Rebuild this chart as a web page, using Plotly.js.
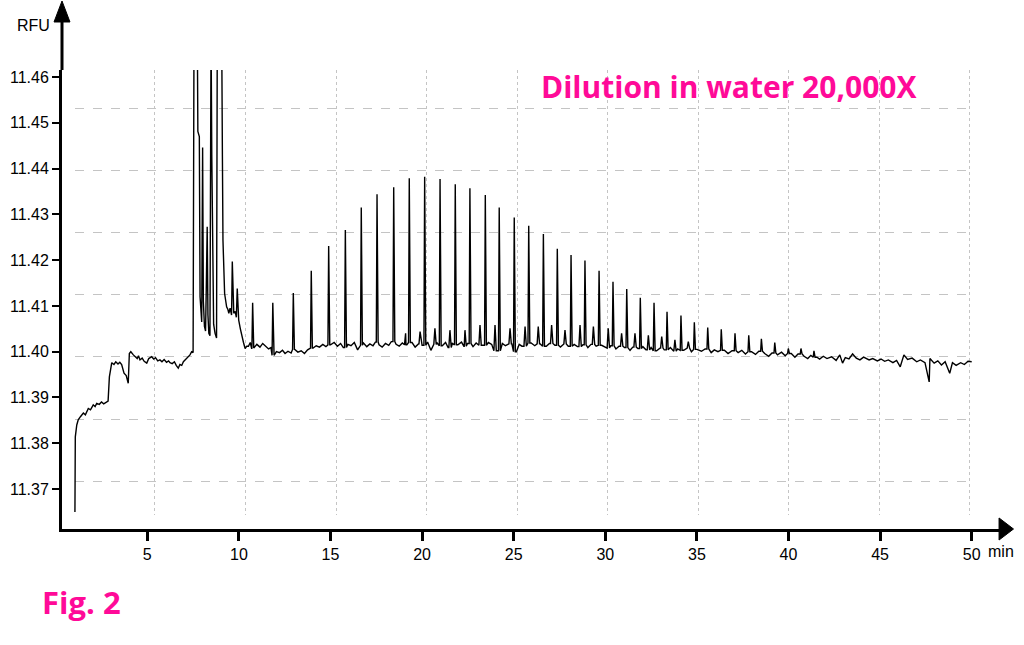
<!DOCTYPE html>
<html>
<head>
<meta charset="utf-8">
<script src="https://cdn.plot.ly/plotly-3.0.1.min.js"></script>
<style>
  html, body { margin: 0; padding: 0; background: #fff; }
  #chart { width: 1024px; height: 645px; }
</style>
</head>
<body>
<div id="chart"></div>
<script>
// baseline of the trace (min, RFU)
const baseTime = [1.05, 1.07, 1.15, 1.23, 1.35, 1.51, 1.62, 1.78, 1.90, 2.05, 2.15, 2.24, 2.38, 2.50, 2.62, 2.78, 2.86, 2.93, 3.00, 3.06,
  3.18, 3.28, 3.40, 3.50, 3.60, 3.68, 3.73, 3.85, 3.96, 4.02, 4.10, 4.24, 4.35, 4.45, 4.52, 4.60, 4.72, 4.83, 4.97, 5.08,
  5.24, 5.35, 5.45, 5.57, 5.69, 5.80, 5.92, 6.05, 6.16, 6.24, 6.36, 6.48, 6.58, 6.69, 6.78, 6.88, 6.97, 7.08, 7.18, 7.27,
  7.33, 7.42, 7.50,
  10.80, 10.98, 11.15, 11.30, 11.45, 11.62, 11.75, 11.92, 12.05, 12.22, 12.38, 12.52, 12.68, 12.85, 13.05, 13.22, 13.40, 13.58, 13.75, 14.05,
  14.22, 14.40, 14.58, 14.75, 15.00, 15.20, 15.38, 15.55, 15.70, 15.95, 16.12, 16.30, 16.48, 16.60, 16.80, 16.98, 17.15, 17.32, 17.45, 17.65,
  17.82, 18.00, 18.18, 18.32, 18.58, 18.75, 18.92, 19.12, 19.45, 19.62, 19.80, 20.00, 20.30, 20.48, 20.60, 20.82, 21.10, 21.28, 21.42, 21.65,
  21.95, 22.15, 22.30, 22.48, 22.78, 22.95, 23.30, 23.62, 23.80, 24.10, 24.38, 24.55, 24.90, 25.15, 25.30, 25.45, 25.95, 26.15, 26.45, 26.78,
  26.95, 27.25, 27.55, 27.70, 27.98, 28.30, 28.48, 28.78, 29.05, 29.22, 29.50, 29.80, 30.05, 30.30, 30.58, 30.75, 31.05, 31.35, 31.50, 31.78,
  32.05, 32.22, 32.50, 32.80, 33.00, 33.22, 33.55, 33.70, 33.95, 34.28, 34.45, 34.70, 35.00, 35.25, 35.45, 35.78, 35.95, 36.15, 36.50, 36.70,
  36.92, 37.25, 37.45, 37.65, 37.98, 38.20, 38.38, 38.70, 38.92, 39.10, 39.40, 39.62, 39.82, 40.15, 40.35, 40.52, 40.85, 41.05, 41.22, 41.55,
  41.70, 41.90, 42.10, 42.35, 42.60, 42.80, 42.95, 43.10, 43.30, 43.50, 43.70, 43.90, 44.10, 44.40, 44.60, 44.85, 45.05, 45.25, 45.45, 45.70,
  45.90, 46.10, 46.30, 46.50, 46.75, 47.00, 47.20, 47.45, 47.68, 47.72, 47.95, 48.15, 48.35, 48.55, 48.80, 48.95, 49.15, 49.40, 49.60, 49.80,
  50.00];
const baseRFU = [11.3650, 11.3814, 11.3840, 11.3851, 11.3858, 11.3866, 11.3862, 11.3876, 11.3873, 11.3884, 11.3880, 11.3887, 11.3885, 11.3890, 11.3886, 11.3889, 11.3892, 11.3945, 11.3966, 11.3976,
  11.3972, 11.3978, 11.3973, 11.3977, 11.3972, 11.3960, 11.3953, 11.3948, 11.3931, 11.3996, 11.4000, 11.3993, 11.3989, 11.3985, 11.3991, 11.3982, 11.3986, 11.3979, 11.3975, 11.3985,
  11.3989, 11.3984, 11.3987, 11.3980, 11.3982, 11.3978, 11.3983, 11.3977, 11.3980, 11.3976, 11.3974, 11.3978, 11.3970, 11.3964, 11.3972, 11.3970, 11.3978, 11.3983, 11.3987, 11.3990,
  11.3993, 11.4000, 11.3998,
  11.4008, 11.4016, 11.4010, 11.4018, 11.4012, 11.4006, 11.4009, 11.3992, 11.4000, 11.3998, 11.4003, 11.3996, 11.4001, 11.3997, 11.4005, 11.3999, 11.4002, 11.3996, 11.4004, 11.4008,
  11.4013, 11.4010, 11.4016, 11.4011, 11.4015, 11.4020, 11.4012, 11.4018, 11.4009, 11.4016, 11.4013, 11.4020, 11.4004, 11.4014, 11.4019, 11.4011, 11.4017, 11.4013, 11.4021, 11.4015,
  11.4010, 11.4018, 11.4014, 11.4022, 11.4016, 11.4012, 11.4019, 11.4015, 11.4020, 11.4010, 11.4017, 11.4014, 11.4021, 11.4003, 11.4016, 11.4019, 11.4013, 11.4020, 11.4009, 11.4018,
  11.4015, 11.4021, 11.4012, 11.4018, 11.4011, 11.4019, 11.4014, 11.4020, 11.4016, 11.4002, 11.4018, 11.4013, 11.4017, 11.4000, 11.4016, 11.4012, 11.4019, 11.4013, 11.4017, 11.4012,
  11.4018, 11.4014, 11.4010, 11.4017, 11.4012, 11.4016, 11.4011, 11.4015, 11.4009, 11.4016, 11.4012, 11.4014, 11.4008, 11.4013, 11.4006, 11.4012, 11.4009, 11.4003, 11.4010, 11.4007,
  11.4011, 11.4004, 11.4009, 11.4002, 11.4008, 11.4004, 11.4009, 11.4001, 11.4006, 11.4003, 11.4008, 11.4000, 11.4005, 11.4001, 11.4006, 11.3998, 11.4004, 11.4000, 11.4003, 11.3996,
  11.4002, 11.3998, 11.4003, 11.3995, 11.4000, 11.3994, 11.4001, 11.3996, 11.3990, 11.3997, 11.3993, 11.3999, 11.3991, 11.3996, 11.3988, 11.3995, 11.3990, 11.3985, 11.3992, 11.3988,
  11.3984, 11.3990, 11.3985, 11.3989, 11.3981, 11.3993, 11.3975, 11.3987, 11.3984, 11.3995, 11.3986, 11.3982, 11.3988, 11.3982, 11.3985, 11.3980, 11.3984, 11.3979, 11.3982, 11.3976,
  11.3981, 11.3967, 11.3993, 11.3983, 11.3986, 11.3978, 11.3982, 11.3976, 11.3934, 11.3985, 11.3975, 11.3980, 11.3971, 11.3978, 11.3953, 11.3976, 11.3970, 11.3976, 11.3972, 11.3979,
  11.3978];

// early cluster of large peaks (tops above 11.4615 run off the top of the chart)
const clusterTime = [7.55, 7.73, 7.76, 7.84, 7.88, 7.92, 7.97, 8.02, 8.06, 8.12, 8.18, 8.22, 8.27, 8.31, 8.36, 8.42, 8.48, 8.52, 8.56, 8.62,
  8.70, 8.78, 8.82, 9.06, 9.10, 9.13, 9.22, 9.33, 9.40, 9.45, 9.52, 9.60, 9.64, 9.68, 9.72, 9.80, 9.86, 9.91, 9.95, 9.99,
  10.08, 10.16, 10.25, 10.34, 10.43, 10.52, 10.62, 10.70];
const clusterRFU = [11.4700, 11.4700, 11.4481, 11.4470, 11.4120, 11.4100, 11.4065, 11.4446, 11.4110, 11.4055, 11.4045, 11.4140, 11.4273, 11.4080, 11.4040, 11.4035, 11.4700, 11.4430, 11.4180, 11.4060,
  11.4040, 11.4030, 11.4700, 11.4700, 11.4426, 11.4244, 11.4127, 11.4098, 11.4092, 11.4084, 11.4095, 11.4080, 11.4197, 11.4090, 11.4084, 11.4088, 11.4075, 11.4138, 11.4090, 11.4069,
  11.4050, 11.4033, 11.4020, 11.4007, 11.4012, 11.4012, 11.4020, 11.4006];

// regular series of sharp peaks: apex time and apex height
const peakTime = [10.75, 11.85, 12.97, 13.95, 14.90, 15.81, 16.68, 17.54, 18.45, 19.30, 20.14, 20.98, 21.81, 22.61, 23.45, 24.21, 25.03, 25.82, 26.62, 27.38,
  28.13, 28.89, 29.66, 30.42, 31.17, 31.91, 32.66, 33.37, 34.13, 34.86, 35.59, 36.33, 37.08, 37.83, 38.52, 39.25, 39.99, 40.68, 41.39];
const peakRFU = [11.4107, 11.4107, 11.4128, 11.4177, 11.4231, 11.4266, 11.4315, 11.4344, 11.4359, 11.4379, 11.4382, 11.4377, 11.4366, 11.4357, 11.4342, 11.4315, 11.4293, 11.4275, 11.4257, 11.4225,
  11.4211, 11.4199, 11.4177, 11.4153, 11.4137, 11.4118, 11.4107, 11.4087, 11.4079, 11.4064, 11.4053, 11.4049, 11.4040, 11.4036, 11.4028, 11.4020, 11.4007, 11.4007, 11.4002];

// small side peaks just ahead of the main ones
const minorTime = [19.10, 19.89, 20.70, 21.52, 22.34, 23.16, 23.98, 24.80, 25.62, 26.34, 27.07, 27.80, 28.62, 29.35, 30.16, 30.89, 31.62, 32.35, 33.08, 33.80, 34.53];
const minorRFU = [11.4040, 11.4044, 11.4051, 11.4047, 11.4047, 11.4058, 11.4058, 11.4051, 11.4055, 11.4055, 11.4058, 11.4047, 11.4058, 11.4055, 11.4051, 11.4040, 11.4040, 11.4036, 11.4033, 11.4026, 11.4022];

const xTicks = [5, 10, 15, 20, 25, 30, 35, 40, 45, 50];
const yTicks = [11.37, 11.38, 11.39, 11.40, 11.41, 11.42, 11.43, 11.44, 11.45, 11.46];

function nearestBase(t) {
  let best = 0;
  for (let i = 1; i < baseTime.length; i++) {
    if (Math.abs(baseTime[i] - t) < Math.abs(baseTime[best] - t)) best = i;
  }
  return baseRFU[best];
}

// put every point on one time line
let pts = [];
baseTime.forEach((t, i) => pts.push([t, baseRFU[i]]));
clusterTime.forEach((t, i) => pts.push([t, clusterRFU[i]]));
peakTime.forEach((t, i) => {
  const b = nearestBase(t);
  pts.push([t - 0.04, b], [t, peakRFU[i]], [t + 0.06, b]);
});
minorTime.forEach((t, i) => {
  const b = nearestBase(t);
  pts.push([t - 0.06, b], [t, minorRFU[i]], [t + 0.07, b]);
});
pts.sort((a, b) => a[0] - b[0]);

const signal = {
  x: pts.map(p => p[0]),
  y: pts.map(p => p[1]),
  xaxis: 'x2', yaxis: 'y2',
  type: 'scatter', mode: 'lines',
  line: { color: '#000', width: 1.4 },
  hoverinfo: 'skip', showlegend: false
};
// empty trace that carries the dashed background grid
const gridHolder = { x: [], y: [], xaxis: 'x', yaxis: 'y', type: 'scatter', mode: 'lines', showlegend: false, hoverinfo: 'skip' };

const axisFont = 'Liberation Sans, Arial, sans-serif';
const pink = '#ff0a98';

const layout = {
  width: 1024, height: 645,
  margin: { l: 62, r: 24, t: 70, b: 116 },
  paper_bgcolor: '#fff', plot_bgcolor: 'rgba(0,0,0,0)',
  showlegend: false,
  // grid only
  xaxis: {
    domain: [0.01386, 0.9701], range: [-0.883, 9.022], tick0: 0, dtick: 1,
    showgrid: true, gridcolor: '#c4c4c4', gridwidth: 1, griddash: 'dot',
    showticklabels: false, ticks: '', zeroline: false, showline: false, anchor: 'y', fixedrange: true
  },
  yaxis: {
    domain: [0.0305, 1], range: [-0.542, 6.616], tick0: 0, dtick: 1,
    showgrid: true, gridcolor: '#c4c4c4', gridwidth: 1, griddash: 'dash',
    showticklabels: false, ticks: '', zeroline: false, showline: false, anchor: 'x', fixedrange: true
  },
  // data axes
  xaxis2: {
    domain: [0, 1], range: [0.344, 51.545], anchor: 'y2',
    tickmode: 'array', tickvals: xTicks, ticks: 'outside', ticklen: 9, tickwidth: 3, tickcolor: '#000',
    showline: true, linewidth: 3, linecolor: '#000', showgrid: false, zeroline: false,
    tickfont: { family: axisFont, size: 16, color: '#000' }, fixedrange: true
  },
  yaxis2: {
    domain: [0, 1], range: [11.36127, 11.46153], anchor: 'x2',
    tickmode: 'array', tickvals: yTicks, tickformat: '.2f', ticks: 'outside', ticklen: 7, tickwidth: 2, tickcolor: '#000',
    showline: true, linewidth: 3, linecolor: '#000', showgrid: false, zeroline: false,
    tickfont: { family: axisFont, size: 16, color: '#000' }, fixedrange: true
  },
  shapes: [
    // y axis runs on above the plot to its arrow
    { type: 'line', xref: 'paper', yref: 'paper', x0: 0, x1: 0, y0: 1, y1: 1.105, line: { color: '#000', width: 3 } },
    { type: 'path', xref: 'paper', yref: 'paper', path: 'M -0.0085 1.1046 L 0 1.1503 L 0.0085 1.1046 Z', fillcolor: '#000', line: { color: '#000', width: 1 } },
    { type: 'path', xref: 'paper', yref: 'paper', path: 'M 0.999 0.024 L 1.0144 0 L 0.999 -0.024 Z', fillcolor: '#000', line: { color: '#000', width: 1 } }
  ],
  annotations: [
    { text: 'RFU', xref: 'paper', yref: 'paper', x: -0.0299, y: 1.098, xanchor: 'center', yanchor: 'middle', showarrow: false,
      font: { family: axisFont, size: 16, color: '#000' } },
    { text: 'min', xref: 'paper', yref: 'paper', x: 1.001, y: -0.05, xanchor: 'center', yanchor: 'middle', showarrow: false,
      font: { family: axisFont, size: 16, color: '#000' } },
    { text: '<b>Dilution in water 20,000X</b>', xref: 'paper', yref: 'paper', x: 0.711, y: 0.965, xanchor: 'center', yanchor: 'middle', showarrow: false,
      font: { family: 'Open Sans, sans-serif', size: 30, color: pink } },
    { text: '<b>Fig. 2</b>', xref: 'paper', yref: 'paper', x: 0.0213, y: -0.159, xanchor: 'center', yanchor: 'middle', showarrow: false,
      font: { family: 'Open Sans, sans-serif', size: 31, color: pink } }
  ]
};

Plotly.newPlot('chart', [gridHolder, signal], layout, { staticPlot: true, displayModeBar: false });
</script>
</body>
</html>
